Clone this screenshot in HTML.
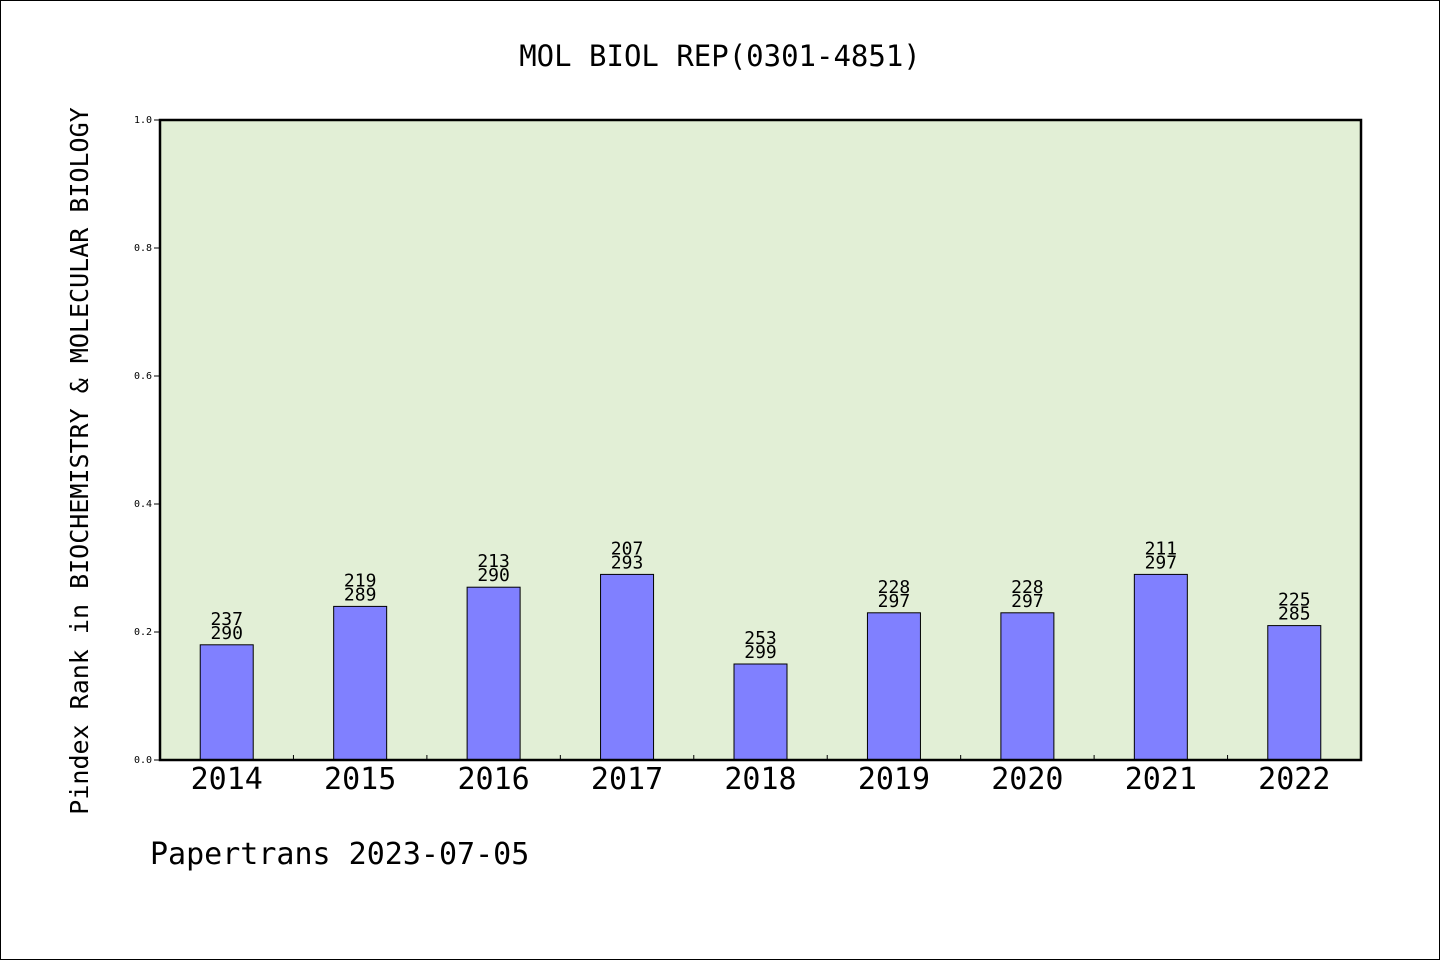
<!DOCTYPE html>
<html><head><meta charset="utf-8"><style>
html,body{margin:0;padding:0;background:#fff;}
svg text{font-family:"WenQuanYi Zen Hei","DejaVu Sans Mono",monospace;fill:#000;}
</style></head><body>
<svg id="chart" width="1440" height="960" xmlns="http://www.w3.org/2000/svg">
<rect x="0.5" y="0.5" width="1439" height="959" fill="#fff" stroke="#000"/>
<text x="720" y="66" font-size="29" text-anchor="middle">MOL BIOL REP(0301-4851)</text>
<rect x="160" y="120" width="1201" height="640" fill="#e2efd6"/>
<g id="yaxis"></g>
<g id="bars"></g>
<g id="xaxis"></g>
<rect x="160" y="120" width="1201" height="640" fill="none" stroke="#000" stroke-width="2.5"/>
<text transform="translate(88,461) rotate(-90)" font-size="25" text-anchor="middle">Pindex Rank in BIOCHEMISTRY &amp; MOLECULAR BIOLOGY</text>
<text x="150" y="864" font-size="30">Papertrans 2023-07-05</text>
</svg>
<script>
const categories=["2014","2015","2016","2017","2018","2019","2020","2021","2022"];
const values=[0.18,0.24,0.27,0.29,0.15,0.23,0.23,0.29,0.21];
const rankLabels=["237","219","213","207","253","228","228","211","225"];
const totalLabels=["290","289","290","293","299","297","297","297","285"];
const yTicks=[0,0.2,0.4,0.6,0.8,1.0];
const yTickLabels=["0.0","0.2","0.4","0.6","0.8","1.0"];
const NS="http://www.w3.org/2000/svg";
const X0=160,X1=1361,Y0=760,Y1=120;
const band=(X1-X0)/categories.length;
const xc=i=>X0+band*(i+0.5);
const y=v=>Y0-(v-0)/(1-0)*(Y0-Y1);
function mk(tag,attrs,parent,txt){const e=document.createElementNS(NS,tag);for(const k in attrs)e.setAttribute(k,attrs[k]);if(txt!==undefined)e.textContent=txt;parent.appendChild(e);return e;}
const ya=document.getElementById('yaxis'),bg=document.getElementById('bars'),xa=document.getElementById('xaxis');
yTicks.forEach((t,i)=>{
 const l=mk('line',{x1:X0-6,x2:X0,y1:y(t),y2:y(t),stroke:'#000','stroke-width':1},ya);
 
 
 const tx=mk('text',{x:X0-8,y:y(t)+3,'font-size':10,'text-anchor':'end'},ya,yTickLabels[i]);
 
 
});
const bw=53;
categories.forEach((c,i)=>{
 const r=mk('rect',{x:xc(i)-bw/2,y:y(values[i]),width:bw,height:Y0-y(values[i]),fill:'#8080ff',stroke:'#000','stroke-width':1},bg);
 
 
 const t1=mk('text',{x:xc(i),y:y(values[i])-6,'font-size':18,'text-anchor':'middle'},bg,totalLabels[i]);
 
 
 const t2=mk('text',{x:xc(i),y:y(values[i])-20,'font-size':18,'text-anchor':'middle'},bg,rankLabels[i]);
 
 
 const xl=mk('text',{x:xc(i),y:Y0+29,'font-size':30,'text-anchor':'middle'},xa,c);
 
 
 if(i>0){
  const tk=mk('line',{x1:X0+band*i,x2:X0+band*i,y1:Y0,y2:Y0-5,stroke:'#000','stroke-width':1},xa);
  
  
 }
});
</script>
</body></html>
